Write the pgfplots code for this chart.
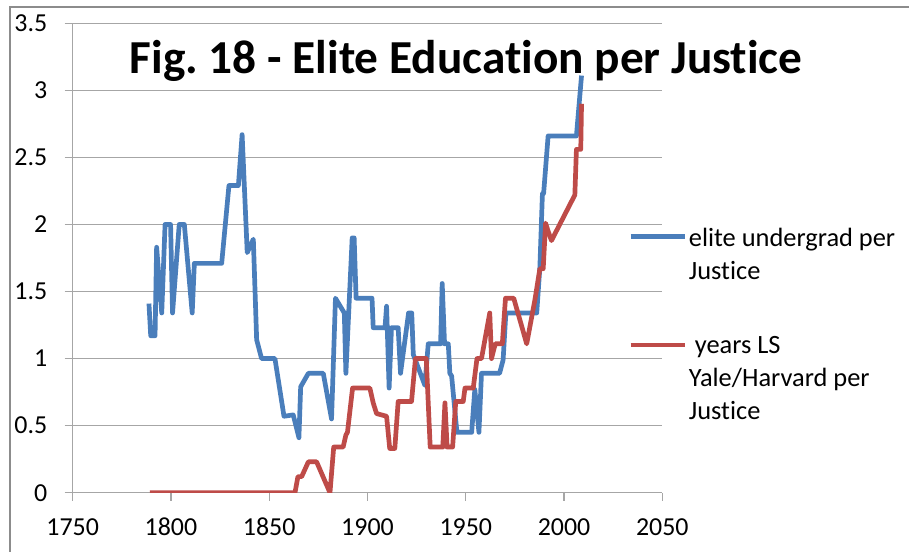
\documentclass[border=0pt]{standalone}
\usepackage{fontspec}
\setmainfont{Carlito}[Ligatures=NoCommon]
\usepackage{pgfplots}
\pgfplotsset{compat=1.18}
\definecolor{bluser}{HTML}{4A7EBB}
\definecolor{redser}{HTML}{BE4B48}
\definecolor{gridgray}{HTML}{A6A6A6}
\definecolor{framegray}{HTML}{8C8C8C}

\begin{document}
\begin{tikzpicture}[x=1bp,y=1bp]
\path[use as bounding box] (0,0) rectangle (909,552);
\draw[framegray, line width=2bp] (10,-5) -- (10,545) -- (915,545);
\begin{axis}[
  at={(72.7bp,59.3bp)}, anchor=south west,
  scale only axis, width=589.6bp, height=469.4bp,
  xmin=1750, xmax=2050, ymin=0, ymax=3.5,
  xtick={1750,1800,...,2050},
  ytick={0,0.5,1,1.5,2,2.5,3,3.5},
  axis x line*=bottom, axis y line*=left,
  axis line style={gridgray, line width=1.3bp},
  tick align=outside, major tick length=8bp,
  tick style={gridgray, line width=1.3bp},
  ymajorgrids, grid style={gridgray, line width=1.3bp},
  /pgf/number format/assume math mode=true,
  /pgf/number format/1000 sep={},
  tick label style={font=\fontsize{26}{30}\selectfont, text=black},
  xticklabel style={yshift=-14bp},
  yticklabel style={xshift=-14bp},
  title={Fig.\ 18 - Elite Education per Justice},
  title style={at={(axis description cs:0.667,0.881)}, anchor=base,
    font=\fontsize{47.5}{55}\selectfont\bfseries},
  legend style={at={(axis description cs:0.9418,0.5699)}, anchor=north west,
    draw=none, fill=none, font=\fontsize{26.5}{33}\selectfont,
    inner sep=0pt, row sep=53bp, column sep=2bp,
    cells={anchor=north west}, nodes={inner sep=0pt, align=left}},
  legend image code/.code={\path (0bp,0bp); \draw[#1] (0bp,-9bp) -- (54bp,-9bp);},
  every axis plot/.append style={line width=4.7bp, line join=round},
]
\addplot[bluser] coordinates {
(1788.8,1.41)(1789.7,1.17)(1791.9,1.17)(1792.7,1.83)(1795.3,1.34)(1797,2.0)
(1799.8,2.0)(1800.8,1.34)(1804.2,2.0)(1806.8,2.0)(1810.8,1.34)(1811.9,1.71)
(1825.8,1.71)(1829.5,2.29)(1834.3,2.29)(1836.2,2.67)(1838.8,1.79)(1841.9,1.89)
(1843.6,1.14)(1844.5,1.09)(1846.1,1.0)(1852.9,1.0)(1857.5,0.57)(1862.2,0.58)
(1865.1,0.41)(1866,0.79)(1869.9,0.89)(1877.5,0.89)(1881.7,0.55)(1883.7,1.45)
(1888.2,1.34)(1889,0.89)(1892.2,1.90)(1893.2,1.90)(1894.2,1.45)(1902.3,1.45)
(1902.9,1.23)(1908.9,1.23)(1909.7,1.39)(1911,0.78)(1912.2,1.23)(1915.6,1.23)
(1916.8,0.89)(1920.9,1.34)(1922.5,1.34)(1923.3,1.03)(1929.2,0.80)(1930.9,1.11)
(1937.2,1.11)(1938,1.56)(1939.2,1.11)(1941.1,1.11)(1941.9,0.89)(1942.8,0.87)
(1945.5,0.45)(1953,0.45)(1954.6,0.77)(1956.7,0.45)(1958,0.89)(1967.2,0.89)
(1969,0.99)(1970.4,1.34)(1986.1,1.34)(1987.7,1.68)(1989,2.23)(1989.6,2.23)
(1991.9,2.66)(2006.3,2.66)(2008.9,3.11)
};
\addlegendentry{elite undergrad per\\Justice}
\addplot[redser] coordinates {
(1789.3,0)(1863.1,0)(1864.6,0.12)(1866.5,0.12)(1869.9,0.23)(1874.1,0.23)
(1880.9,0)(1882.8,0.34)(1887.6,0.34)(1889,0.43)(1889.8,0.45)(1892.4,0.78)
(1901.2,0.78)(1902.9,0.67)(1904.6,0.59)(1909.7,0.57)(1911.3,0.33)(1913.9,0.33)
(1915.6,0.68)(1922.4,0.68)(1924.4,1.0)(1929.9,1.0)(1931.9,0.34)(1938.3,0.34)
(1939.4,0.67)(1940.5,0.34)(1943.3,0.34)(1944.9,0.68)(1948.7,0.68)(1949.6,0.78)
(1953.8,0.78)(1955.7,1.0)(1958,1.0)(1962.2,1.34)(1963.1,1.0)(1965,1.11)
(1968.6,1.11)(1970.2,1.45)(1974.4,1.45)(1981,1.11)(1985.2,1.44)(1987.7,1.67)
(1989.4,1.67)(1990.6,2.01)(1991.9,1.95)(1993.6,1.88)(2005.5,2.22)(2006.3,2.56)
(2008.5,2.56)(2008.9,2.90)
};
\addlegendentry{\ years LS\\Yale/Harvard per\\Justice}
\end{axis}
\end{tikzpicture}
\end{document}
